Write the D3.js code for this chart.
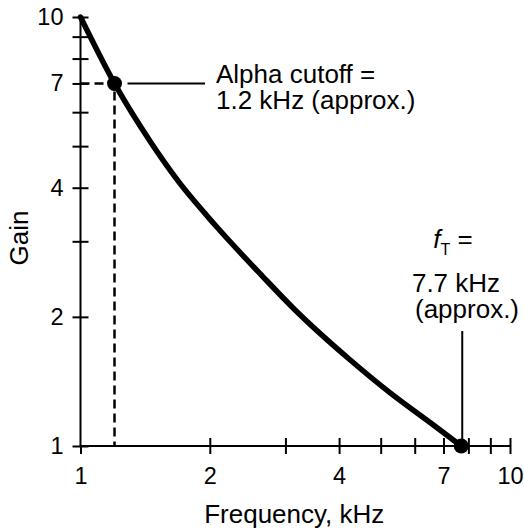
<!DOCTYPE html>
<html>
<head>
<meta charset="utf-8">
<script src="https://cdn.jsdelivr.net/npm/d3@7"></script>
<style>
  html, body { margin: 0; padding: 0; background: #fff; }
  svg { display: block; font-family: "Liberation Sans", Arial, sans-serif; }
</style>
</head>
<body>
<svg id="chart" width="524" height="531"></svg>
<script>
// ---- data ----
const freq = [1, 1.2, 1.46, 1.68, 2.06, 2.66, 3.16, 4.22, 5.26, 6.55, 7.7];
const gain = [10, 7.0, 5.09, 4.17, 3.27, 2.48, 2.075, 1.595, 1.33, 1.13, 1.0];
const xTicks = [1, 2, 3, 4, 5, 6, 7, 8, 9, 10];
const yTicks = [1, 2, 3, 4, 5, 6, 7, 8, 9, 10];
const xTickLabels = [1, 2, 4, 7, 10];
const yTickLabels = [1, 2, 4, 7, 10];
const alphaCutoff = { f: 1.2, g: 7 };
const fT = { f: 7.7, g: 1 };
const xTitle = "Frequency, kHz";
const yTitle = "Gain";

// ---- layout ----
const svg = d3.select("#chart");
const mLeft = 80.5, mRight = 510, mTop = 17, mBottom = 446;
const x = d3.scaleLog().domain([1, 10]).range([mLeft, mRight]);
const y = d3.scaleLog().domain([1, 10]).range([mBottom, mTop]);

const tickFont = 23.5, titleFont = 26;

// axes
const xAxis = d3.axisBottom(x).tickValues(xTicks).tickSize(8).tickPadding(13)
  .tickFormat(d => xTickLabels.includes(d) ? String(d) : "");
const gx = svg.append("g").attr("transform", `translate(0,${mBottom})`).call(xAxis);
gx.select(".domain").attr("stroke", "#000").attr("stroke-width", 2).attr("d", `M${mLeft},0H${mRight}`);
gx.selectAll(".tick line").attr("stroke", "#000").attr("stroke-width", 2)
  .attr("y1", d => d === 1 ? 0 : -8).attr("y2", 8);
gx.selectAll(".tick text").attr("font-size", tickFont).attr("fill", "#000")
  .attr("font-family", "Liberation Sans, Arial, sans-serif");

const yAxis = d3.axisLeft(y).tickValues(yTicks).tickSize(8).tickPadding(9)
  .tickFormat(d => yTickLabels.includes(d) ? String(d) : "");
const gy = svg.append("g").attr("transform", `translate(${mLeft},0)`).call(yAxis);
gy.select(".domain").attr("stroke", "#000").attr("stroke-width", 2).attr("d", `M0,${mTop}V${mBottom}`);
gy.selectAll(".tick line").attr("stroke", "#000").attr("stroke-width", 2)
  .attr("x1", 8).attr("x2", -8);
gy.selectAll(".tick text").attr("font-size", tickFont).attr("fill", "#000")
  .attr("font-family", "Liberation Sans, Arial, sans-serif");

// titles
svg.append("text").attr("x", (mLeft + mRight) / 2 - 1).attr("y", 523)
  .attr("text-anchor", "middle").attr("font-size", titleFont).text(xTitle);
svg.append("text").attr("transform", `translate(28,${238}) rotate(-90)`)
  .attr("text-anchor", "middle").attr("font-size", titleFont).text(yTitle);

// dashed guides to alpha cutoff
svg.append("path")
  .attr("d", `M${x(1)},${y(alphaCutoff.g)}H${x(alphaCutoff.f)}V${y(1)}`)
  .attr("fill", "none").attr("stroke", "#000").attr("stroke-width", 2.5)
  .attr("stroke-dasharray", "9,5");

// curve
const pts = freq.map((f, i) => [f, gain[i]]);
svg.append("path").datum(pts)
  .attr("d", d3.line().x(d => x(d[0])).y(d => y(d[1])).curve(d3.curveMonotoneX))
  .attr("fill", "none").attr("stroke", "#000").attr("stroke-width", 5.5).attr("stroke-linecap", "round");

// dots
svg.selectAll("circle.pt").data([alphaCutoff, fT]).join("circle")
  .attr("cx", d => x(d.f)).attr("cy", d => y(d.g)).attr("r", 7.5).attr("fill", "#000");

// leader lines
svg.append("line").attr("x1", x(alphaCutoff.f) + 13).attr("x2", 205)
  .attr("y1", y(alphaCutoff.g)).attr("y2", y(alphaCutoff.g))
  .attr("stroke", "#000").attr("stroke-width", 2);
svg.append("line").attr("x1", x(fT.f) + 1).attr("x2", x(fT.f) + 1)
  .attr("y1", 331).attr("y2", y(fT.g) - 7)
  .attr("stroke", "#000").attr("stroke-width", 2);

// annotations
const a = svg.append("text").attr("font-size", titleFont);
a.append("tspan").attr("x", 216).attr("y", 83).text("Alpha cutoff =");
a.append("tspan").attr("x", 216).attr("y", 109).text("1.2 kHz (approx.)");

const t = svg.append("text").attr("font-size", titleFont).attr("x", 453).attr("y", 248).attr("text-anchor", "middle");
t.append("tspan").attr("font-style", "italic").text("f");
t.append("tspan").attr("font-size", 16).attr("dy", 7).text("T");
t.append("tspan").attr("dy", -7).text(" =");
svg.append("text").attr("font-size", titleFont).attr("x", 456).attr("y", 292)
  .attr("text-anchor", "middle").text("7.7 kHz");
svg.append("text").attr("font-size", titleFont).attr("x", 467).attr("y", 318)
  .attr("text-anchor", "middle").text("(approx.)");
</script>
</body>
</html>
